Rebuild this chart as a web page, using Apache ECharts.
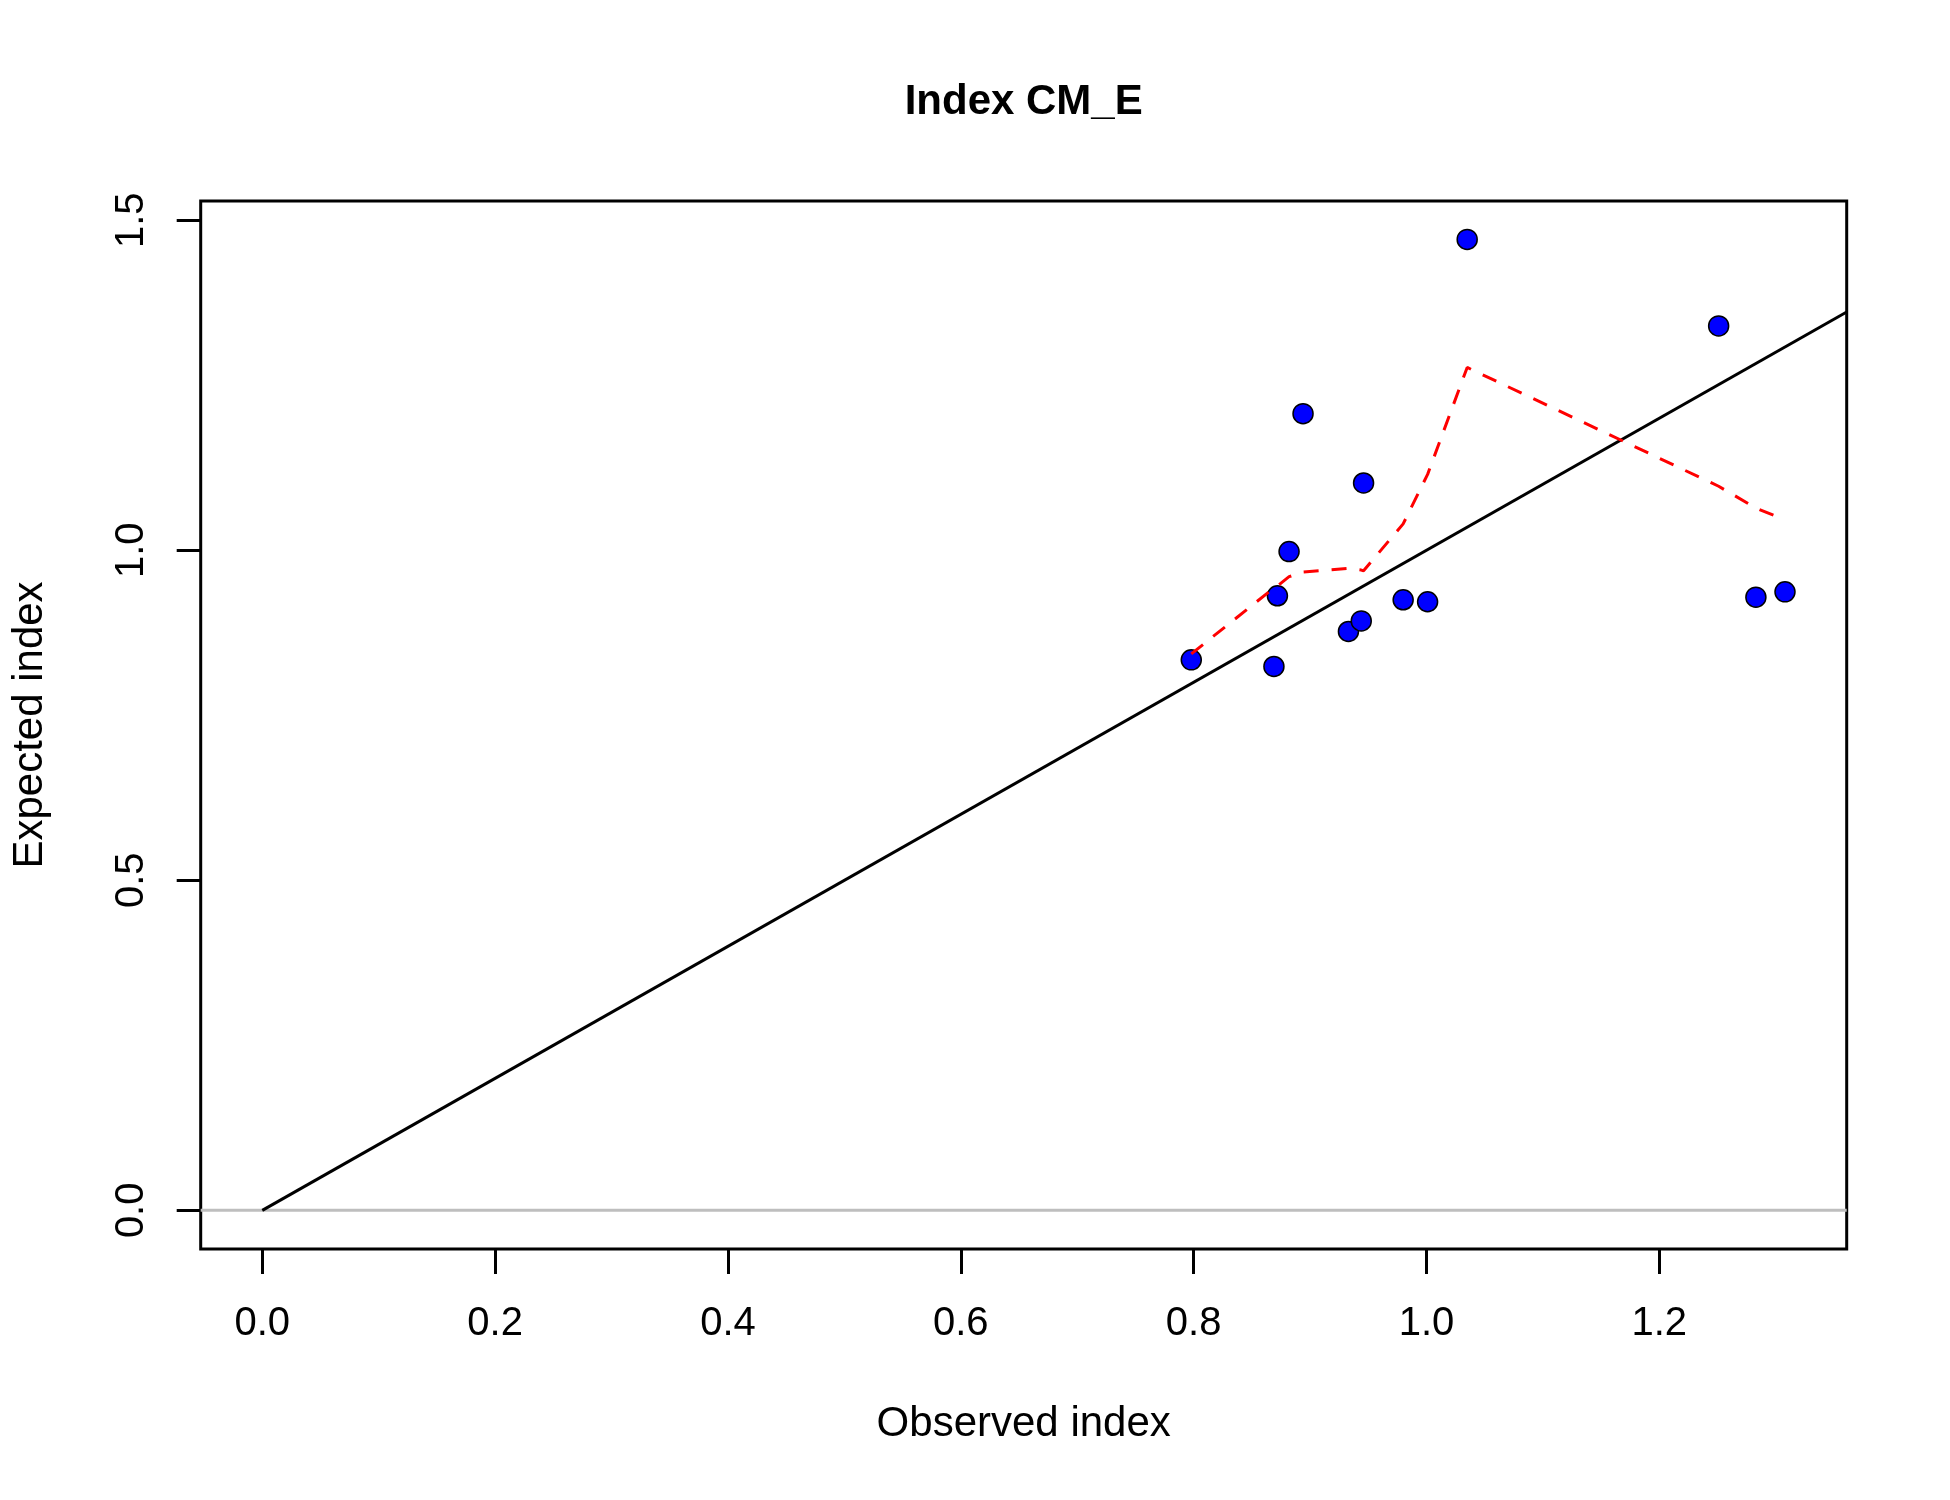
<!DOCTYPE html>
<html>
<head>
<meta charset="utf-8">
<title>Index CM_E</title>
<script src="https://cdn.jsdelivr.net/npm/echarts@6/dist/echarts.min.js"></script>
<style>
    html, body { margin: 0; padding: 0; background: #fff; }
    #chart_index { width: 1950px; height: 1500px; }
</style>
</head>
<body>
<div id="chart_index"></div>
<script>
// observed vs expected index values
var obsIndex = [0.798, 0.869, 0.872, 0.882, 0.894, 0.933, 0.944, 0.946, 0.980, 1.001, 1.035, 1.251, 1.283, 1.308];
var expIndex = [0.834, 0.824, 0.931, 0.998, 1.207, 0.877, 0.893, 1.102, 0.925, 0.922, 1.471, 1.340, 0.929, 0.937];

// smoother (red dashed) evaluated at the sorted observed values
var smoothY = [0.843, 0.943, 0.946, 0.960, 0.967, 0.9725, 0.970, 0.969, 1.040, 1.115, 1.277, 1.097, 1.064, 1.046];

var xTicks = [0, 0.2, 0.4, 0.6, 0.8, 1.0, 1.2];
var yTicks = [0, 0.5, 1.0, 1.5];

var font = "'Liberation Sans', Arial, sans-serif";

(function () {
    var chart_index = echarts.init(document.getElementById("chart_index"));

    var points = obsIndex.map(function (x, i) { return [x, expIndex[i]]; });
    var smooth = obsIndex.map(function (x, i) { return [x, smoothY[i]]; });

    var option = {
        backgroundColor: '#fff',
        animation: false,
        title: {
            text: 'Index CM_E',
            left: 1023.7,
            textAlign: 'center',
            top: 81,
            padding: 0,
            textStyle: {
                fontFamily: font,
                fontWeight: 'bold',
                fontSize: 42,
                lineHeight: 42,
                color: '#000'
            }
        },
        grid: {
            left: 200.7,
            right: 103.3,
            top: 201,
            bottom: 251,
            show: true,
            borderColor: '#000',
            borderWidth: 3,
            backgroundColor: 'transparent'
        },
        xAxis: {
            type: 'value',
            min: -0.0529,
            max: 1.361,
            name: 'Observed index',
            nameLocation: 'middle',
            nameGap: 154,
            nameTextStyle: {fontFamily: font, fontSize: 42, lineHeight: 42, color: '#000'},
            axisLine: {show: false, onZero: false},
            splitLine: {show: false},
            axisTick: {
                show: true,
                inside: false,
                length: 25,
                customValues: xTicks,
                lineStyle: {color: '#000', width: 3}
            },
            axisLabel: {
                customValues: xTicks,
                margin: 55,
                fontFamily: font,
                fontSize: 40,
                lineHeight: 40,
                color: '#000',
                formatter: function (v) { return v.toFixed(1); }
            }
        },
        yAxis: {
            type: 'value',
            min: -0.0586,
            max: 1.5292,
            name: 'Expected index',
            nameLocation: 'middle',
            nameRotate: 90,
            nameGap: 149,
            nameTextStyle: {fontFamily: font, fontSize: 42, lineHeight: 42, color: '#000'},
            axisLine: {show: false, onZero: false},
            splitLine: {show: false},
            axisTick: {
                show: true,
                inside: false,
                length: 24,
                customValues: yTicks,
                lineStyle: {color: '#000', width: 3}
            },
            axisLabel: {
                customValues: yTicks,
                rotate: 90,
                margin: 49,
                fontFamily: font,
                fontSize: 40,
                lineHeight: 40,
                color: '#000',
                formatter: function (v) { return v.toFixed(1); }
            }
        },
        series: [
            {
                name: 'zero',
                type: 'line',
                data: [[-0.0529, 0], [1.361, 0]],
                symbol: 'none',
                silent: true,
                lineStyle: {color: '#bebebe', width: 3},
                z: 1
            },
            {
                name: 'observed',
                type: 'scatter',
                data: points,
                symbol: 'circle',
                symbolSize: 20,
                itemStyle: {color: '#0000ff', borderColor: '#000', borderWidth: 1.5, opacity: 1},
                z: 2
            },
            {
                name: '1:1',
                type: 'line',
                data: [[0, 0], [1.361, 1.361]],
                symbol: 'none',
                silent: true,
                lineStyle: {color: '#000', width: 3},
                z: 3
            },
            {
                name: 'smooth',
                type: 'line',
                data: smooth,
                symbol: 'none',
                silent: true,
                lineStyle: {color: '#ff0000', width: 3, type: [15, 13]},
                z: 4
            }
        ]
    };
    chart_index.setOption(option);

    window.onresize = chart_index.resize;
})();
</script>
</body>
</html>
